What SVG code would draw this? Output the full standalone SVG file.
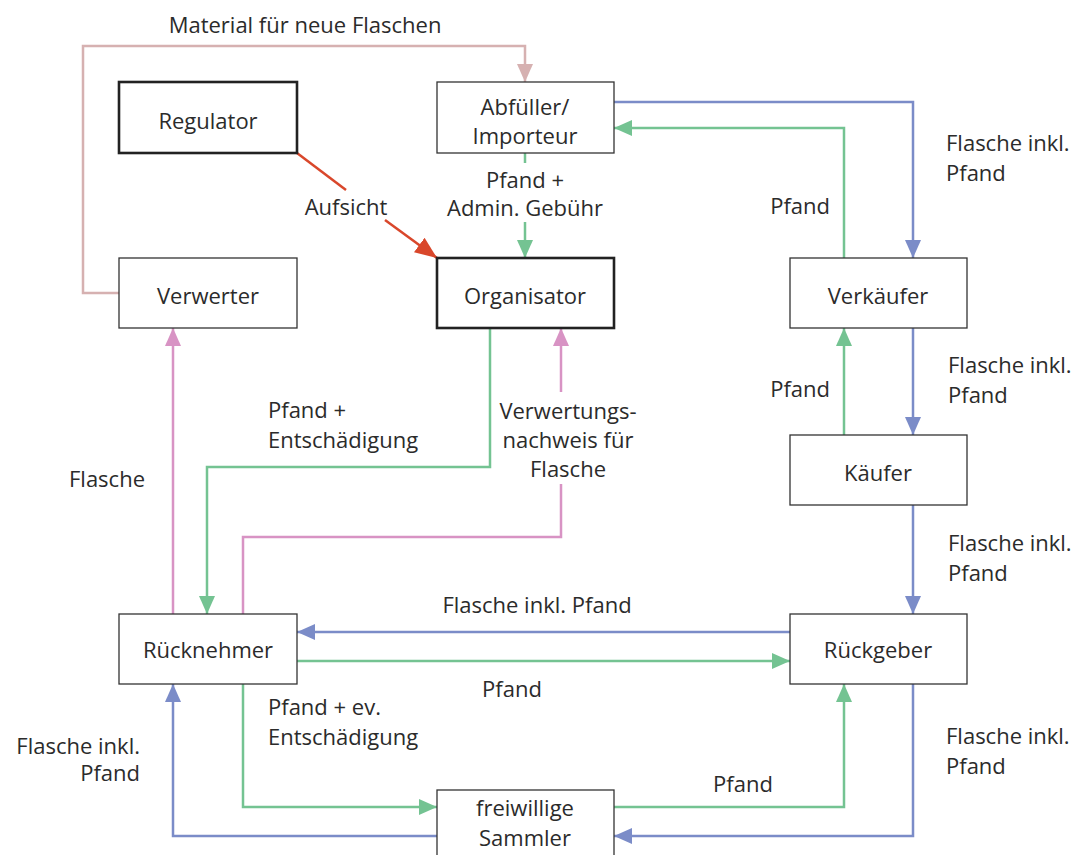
<svg xmlns="http://www.w3.org/2000/svg" width="1082" height="855" viewBox="0 0 1082 855">
<style>
.box{fill:#fff;stroke:#333;stroke-width:1.3}
.thick{stroke-width:2.6;stroke:#222}
text{font-family:"Open Sans","Noto Sans",sans-serif;font-size:22px;fill:#2b2b2b}
.c{text-anchor:middle}
.r{text-anchor:end}
.ln{fill:none;stroke-width:2.5}
.blue{stroke:#7b8cc8}.green{stroke:#74c392}.pink{stroke:#d893c4}.brown{stroke:#d6b1b1}.red{stroke:#d9472b}
</style>
<defs>
<marker id="ab" viewBox="0 0 18 16" refX="18" refY="8" markerWidth="18" markerHeight="16" markerUnits="userSpaceOnUse" orient="auto"><path d="M0,0L18,8L0,16Z" fill="#7b8cc8"/></marker>
<marker id="ag" viewBox="0 0 18 16" refX="18" refY="8" markerWidth="18" markerHeight="16" markerUnits="userSpaceOnUse" orient="auto"><path d="M0,0L18,8L0,16Z" fill="#74c392"/></marker>
<marker id="ap" viewBox="0 0 18 16" refX="18" refY="8" markerWidth="18" markerHeight="16" markerUnits="userSpaceOnUse" orient="auto"><path d="M0,0L18,8L0,16Z" fill="#d893c4"/></marker>
<marker id="abr" viewBox="0 0 18 16" refX="18" refY="8" markerWidth="18" markerHeight="16" markerUnits="userSpaceOnUse" orient="auto"><path d="M0,0L18,8L0,16Z" fill="#d6b1b1"/></marker>
<marker id="ar" viewBox="0 0 22 18" refX="22" refY="9" markerWidth="22" markerHeight="18" markerUnits="userSpaceOnUse" orient="auto"><path d="M0,0L22,9L0,18Z" fill="#d9472b"/></marker>
</defs>
<rect width="1082" height="855" fill="#fff"/>
<g id="connectors">
<path class="ln brown" d="M119,293H83V46H525V82" marker-end="url(#abr)"/>
<path class="ln red" d="M297,153L346,190"/>
<path class="ln red" d="M385,220L437,258" marker-end="url(#ar)"/>
<path class="ln green" d="M525,153V163"/>
<path class="ln green" d="M525,222V258" marker-end="url(#ag)"/>
<path class="ln blue" d="M614,102H913V258" marker-end="url(#ab)"/>
<path class="ln green" d="M844,258V128H614" marker-end="url(#ag)"/>
<path class="ln blue" d="M913,328V435" marker-end="url(#ab)"/>
<path class="ln green" d="M844,435V328" marker-end="url(#ag)"/>
<path class="ln blue" d="M913,505V614" marker-end="url(#ab)"/>
<path class="ln green" d="M490,328V467H207V614" marker-end="url(#ag)"/>
<path class="ln pink" d="M243,614V537H561V484"/>
<path class="ln pink" d="M561,392V328" marker-end="url(#ap)"/>
<path class="ln pink" d="M173,614V328" marker-end="url(#ap)"/>
<path class="ln blue" d="M790,632H297" marker-end="url(#ab)"/>
<path class="ln green" d="M297,661H790" marker-end="url(#ag)"/>
<path class="ln green" d="M243,684V807H437" marker-end="url(#ag)"/>
<path class="ln blue" d="M437,836H173V684" marker-end="url(#ab)"/>
<path class="ln green" d="M614,807H844V684" marker-end="url(#ag)"/>
<path class="ln blue" d="M913,684V836H614" marker-end="url(#ab)"/>
</g>
<g id="labels">
<text x="305" y="33" class="c">Material für neue Flaschen</text>
<text x="346" y="215" class="c">Aufsicht</text>
<text x="525" y="188" class="c">Pfand +</text>
<text x="525" y="216" class="c">Admin. Gebühr</text>
<text x="946" y="151">Flasche inkl.</text>
<text x="946" y="181">Pfand</text>
<text x="830" y="214" class="r">Pfand</text>
<text x="948" y="373">Flasche inkl.</text>
<text x="948" y="403">Pfand</text>
<text x="830" y="397" class="r">Pfand</text>
<text x="948" y="551">Flasche inkl.</text>
<text x="948" y="581">Pfand</text>
<text x="268" y="418">Pfand +</text>
<text x="268" y="448">Entschädigung</text>
<text x="568" y="419" class="c">Verwertungs-</text>
<text x="568" y="448" class="c">nachweis für</text>
<text x="568" y="477" class="c">Flasche</text>
<text x="145" y="487" class="r">Flasche</text>
<text x="537" y="613" class="c">Flasche inkl. Pfand</text>
<text x="512" y="697" class="c">Pfand</text>
<text x="268" y="715">Pfand + ev.</text>
<text x="268" y="745">Entschädigung</text>
<text x="140" y="754" class="r">Flasche inkl.</text>
<text x="140" y="781" class="r">Pfand</text>
<text x="743" y="792" class="c">Pfand</text>
<text x="946" y="744">Flasche inkl.</text>
<text x="946" y="774">Pfand</text>
</g>
<g id="regulator"><rect class="box thick" x="119" y="82" width="178" height="71"/><text x="208" y="129" class="c">Regulator</text></g>
<g id="abfueller"><rect class="box" x="437" y="82" width="177" height="71"/><text x="525" y="115" class="c">Abfüller/</text><text x="525" y="144" class="c">Importeur</text></g>
<g id="verwerter"><rect class="box" x="119" y="258" width="178" height="70"/><text x="208" y="304" class="c">Verwerter</text></g>
<g id="organisator"><rect class="box thick" x="437" y="258" width="177" height="70"/><text x="525" y="304" class="c">Organisator</text></g>
<g id="verkaeufer"><rect class="box" x="790" y="258" width="177" height="70"/><text x="878" y="304" class="c">Verkäufer</text></g>
<g id="kaeufer"><rect class="box" x="790" y="435" width="177" height="70"/><text x="878" y="481" class="c">Käufer</text></g>
<g id="ruecknehmer"><rect class="box" x="119" y="614" width="178" height="70"/><text x="208" y="658" class="c">Rücknehmer</text></g>
<g id="rueckgeber"><rect class="box" x="790" y="614" width="177" height="70"/><text x="878" y="658" class="c">Rückgeber</text></g>
<g id="sammler"><rect class="box" x="437" y="790" width="177" height="75"/><text x="525" y="816" class="c">freiwillige</text><text x="525" y="846" class="c">Sammler</text></g>
</svg>
